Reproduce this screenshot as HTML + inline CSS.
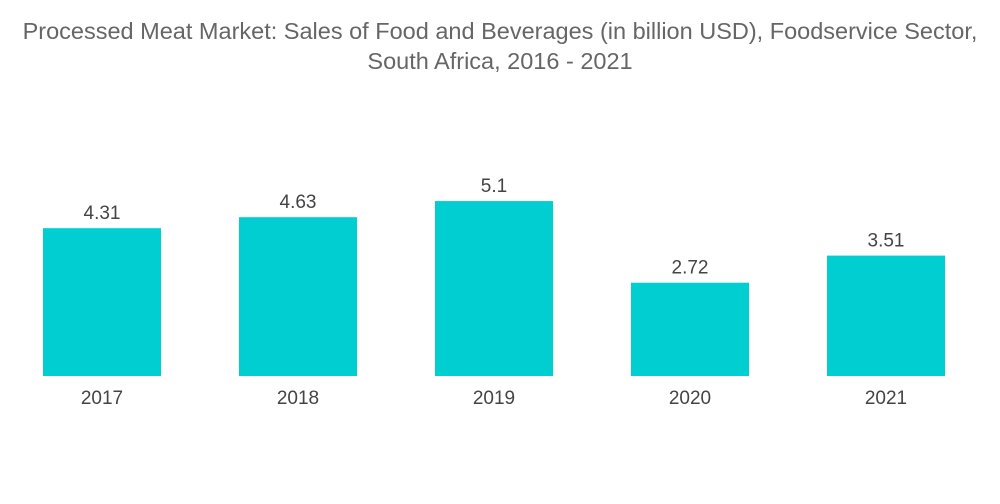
<!DOCTYPE html>
<html><head><meta charset="utf-8"><style>
body{margin:0;background:#fff;font-family:"Liberation Sans",sans-serif;}
#wrap{position:relative;width:1000px;height:504px;overflow:hidden;}
.title{position:absolute;left:0;width:1000px;text-align:center;color:#666;font-size:23.5px;line-height:30px;}
</style></head><body>
<div id="wrap">
<div class="title" style="top:16px">Processed Meat Market: Sales of Food and Beverages (in billion USD), Foodservice Sector,<br>South Africa, 2016 - 2021</div>
<svg id="svg" width="1000" height="504" style="position:absolute;left:0;top:0"></svg>
</div>
<script>
const categories=["2017","2018","2019","2020","2021"];
const values=[4.31,4.63,5.1,2.72,3.51];
const labels=["4.31","4.63","5.1","2.72","3.51"];
const svg=document.getElementById('svg');
const NS='http://www.w3.org/2000/svg';
const baseY=376, pxPerUnit=34.3;
function y(v){return baseY-v*pxPerUnit;}
function xc(i){return 102+i*196;}
const bw=118;
categories.forEach((c,i)=>{
  const r=document.createElementNS(NS,'rect');
  r.setAttribute('x',xc(i)-bw/2);r.setAttribute('y',y(values[i]));
  r.setAttribute('width',bw);r.setAttribute('height',baseY-y(values[i]));
  r.setAttribute('fill','#00ced1');
  
  
  svg.appendChild(r);
  const t=document.createElementNS(NS,'text');
  t.setAttribute('x',xc(i));t.setAttribute('y',y(values[i])-9);
  t.setAttribute('text-anchor','middle');t.setAttribute('font-size','19');t.setAttribute('fill','#444');
  t.textContent=labels[i];
  
  
  svg.appendChild(t);
  const l=document.createElementNS(NS,'text');
  l.setAttribute('x',xc(i));l.setAttribute('y',404);
  l.setAttribute('text-anchor','middle');l.setAttribute('font-size','19');l.setAttribute('fill','#444');
  l.textContent=c;
  
  
  svg.appendChild(l);
});
</script>
</body></html>
